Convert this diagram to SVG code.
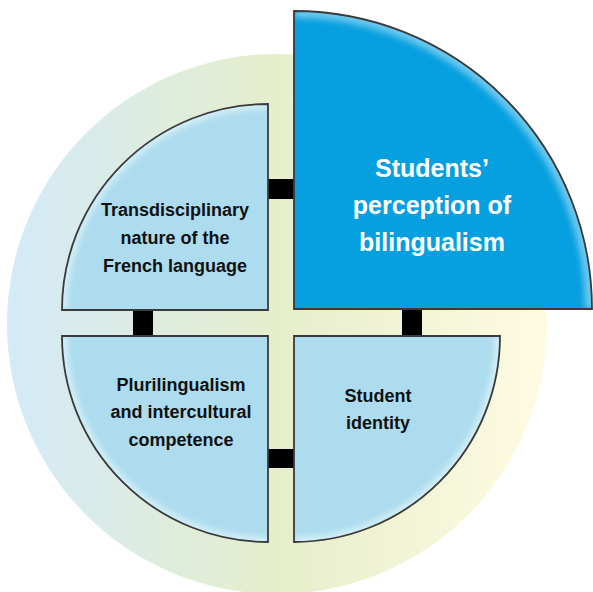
<svg xmlns="http://www.w3.org/2000/svg" width="593" height="592" viewBox="0 0 593 592">
<defs>
<linearGradient id="bg" x1="0" y1="0" x2="1" y2="0">
<stop offset="0" stop-color="#d3eaf8"/>
<stop offset="0.5" stop-color="#e6eecb"/>
<stop offset="1" stop-color="#fffbe2"/>
</linearGradient>
<filter id="blur" x="-10%" y="-10%" width="120%" height="120%"><feGaussianBlur stdDeviation="3"/></filter>
<clipPath id="cTL"><path d="M268,310 L62,310 A206,206 0 0 1 268,104 Z"/></clipPath>
<clipPath id="cBL"><path d="M268,336 L268,542 A206,206 0 0 1 62,336 Z"/></clipPath>
<clipPath id="cBR"><path d="M294,336 L500,336 A206,206 0 0 1 294,542 Z"/></clipPath>
<clipPath id="cTR"><path d="M294,309 L294,11 A298,298 0 0 1 592,309 Z"/></clipPath>
</defs>
<style>
.light{fill:#acdcee;}
.dark{fill:#069fdf;}
.glowL{fill:none;stroke:#d6eff8;stroke-width:10;filter:url(#blur);}
.glowD{fill:none;stroke:#6cc8ef;stroke-width:14;filter:url(#blur);}
.edge{fill:none;stroke:#3a3a3a;stroke-width:1.8;}
.bar{fill:#000;}
.t{font-family:"Liberation Sans",Arial,sans-serif;font-weight:bold;text-anchor:middle;}
.tb{font-size:18px;fill:#111;}
.tw{font-size:25px;fill:#fff;}
</style>
<circle cx="277" cy="324" r="270" fill="url(#bg)"/>
<g id="connectors">
<rect class="bar" x="266" y="179" width="30" height="20"/>
<rect class="bar" x="133" y="308" width="20" height="30"/>
<rect class="bar" x="402" y="307" width="20" height="31"/>
<rect class="bar" x="266" y="449" width="30" height="19"/>
</g>
<g id="node-tl">
<path class="light" d="M268,310 L62,310 A206,206 0 0 1 268,104 Z"/>
<g clip-path="url(#cTL)"><path class="glowL" d="M62,310 A206,206 0 0 1 268,104"/></g>
<path class="edge" d="M268,310 L62,310 A206,206 0 0 1 268,104 Z"/>
<text class="t tb" x="175" y="216">Transdisciplinary</text>
<text class="t tb" x="175" y="244">nature of the</text>
<text class="t tb" x="175" y="272">French language</text>
</g>
<g id="node-tr">
<path class="dark" d="M294,309 L294,11 A298,298 0 0 1 592,309 Z"/>
<g clip-path="url(#cTR)"><path class="glowD" d="M294,11 A298,298 0 0 1 592,309"/></g>
<path class="edge" d="M294,309 L294,11 A298,298 0 0 1 592,309 Z"/>
<text class="t tw" x="432" y="177">Students’</text>
<text class="t tw" x="432" y="214">perception of</text>
<text class="t tw" x="432" y="251">bilingualism</text>
</g>
<g id="node-bl">
<path class="light" d="M268,336 L268,542 A206,206 0 0 1 62,336 Z"/>
<g clip-path="url(#cBL)"><path class="glowL" d="M268,542 A206,206 0 0 1 62,336"/></g>
<path class="edge" d="M268,336 L268,542 A206,206 0 0 1 62,336 Z"/>
<text class="t tb" x="181" y="391">Plurilingualism</text>
<text class="t tb" x="181" y="418">and intercultural</text>
<text class="t tb" x="181" y="446">competence</text>
</g>
<g id="node-br">
<path class="light" d="M294,336 L500,336 A206,206 0 0 1 294,542 Z"/>
<g clip-path="url(#cBR)"><path class="glowL" d="M500,336 A206,206 0 0 1 294,542"/></g>
<path class="edge" d="M294,336 L500,336 A206,206 0 0 1 294,542 Z"/>
<text class="t tb" x="378" y="402">Student</text>
<text class="t tb" x="378" y="429">identity</text>
</g>
</svg>
